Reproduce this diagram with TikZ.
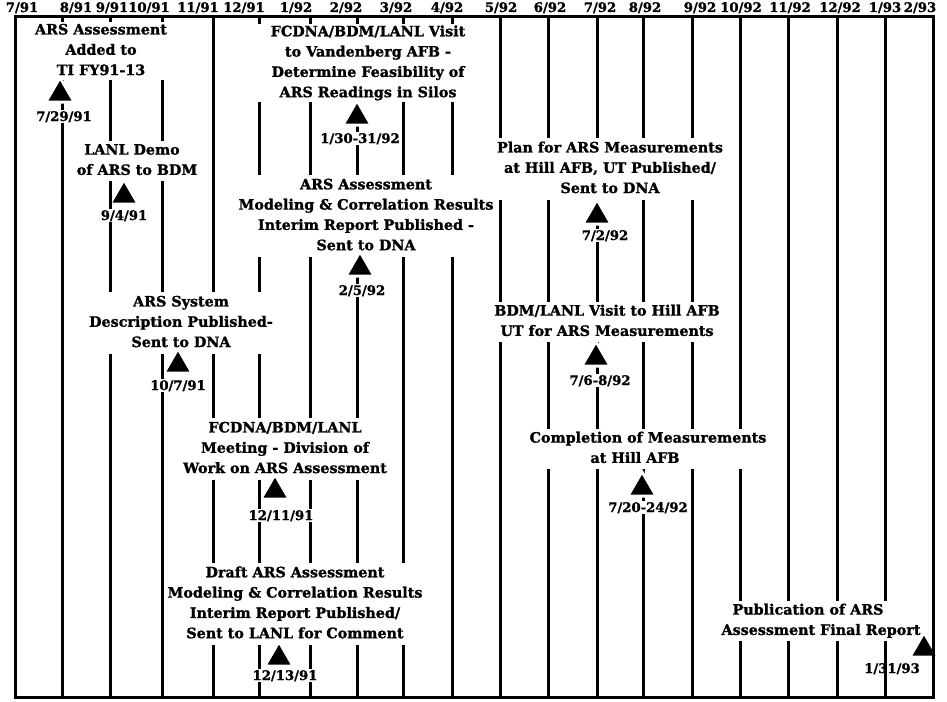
\documentclass[tikz,border=0pt]{standalone}
\usepackage{fontspec}
\setmainfont{DejaVu Serif}[BoldFeatures={FakeBold=1.3}]
\usetikzlibrary{shapes.geometric}
\newcommand\evfont{\fontsize{14.3}{20.3}\selectfont\bfseries}
\newcommand\datefont{\fontsize{13.2}{16}\selectfont\bfseries}
\newcommand\hdrfont{\fontsize{13.2}{15}\selectfont\bfseries}
\newcommand\ls{\rule[-3.5pt]{0pt}{14.5pt}}
\tikzset{
  frame/.style={line width=3pt},
  month/.style={line width=3pt},
  ev/.style={align=center, fill=white, inner xsep=4pt, inner ysep=3pt, font=\evfont},
  toprow/.style={inner ysep=1pt},
  datelbl/.style={fill=white, inner xsep=1pt, inner ysep=1pt, anchor=base, font=\datefont},
  hdr/.style={inner sep=0pt, anchor=base, font=\hdrfont},
  marker/.style={regular polygon, regular polygon sides=3, fill=black, minimum size=26.5pt, inner sep=0pt},
  halo/.style={preaction={draw=white, line width=6pt}},
}
\begin{document}
\begin{tikzpicture}[x=1pt,y=-1pt]
\useasboundingbox (0,0) rectangle (947,701);
\fill[white] (0,0) rectangle (947,701);
\draw[frame] (15,17) rectangle (933,697);
\foreach \x in {62,110,162,213,259,310,357,403,452,500,548,597,643,692,740,788,837,885}
  \draw[month] (\x,17) -- (\x,697);
% header
\node[hdr] (h1) at (22,12) {7/91};
\node[hdr] (h2) at (76,12) {8/91};
\node[hdr] (h3) at (112,12) {9/91};
\node[hdr] (h4) at (149,12) {10/91};
\node[hdr] (h5) at (198,12) {11/91};
\node[hdr] (h6) at (244,12) {12/91};
\node[hdr] (h7) at (296,12) {1/92};
\node[hdr] (h8) at (346,12) {2/92};
\node[hdr] (h9) at (396,12) {3/92};
\node[hdr] (h10) at (447,12) {4/92};
\node[hdr] (h11) at (501,12) {5/92};
\node[hdr] (h12) at (550,12) {6/92};
\node[hdr] (h13) at (600,12) {7/92};
\node[hdr] (h14) at (645,12) {8/92};
\node[hdr] (h15) at (700,12) {9/92};
\node[hdr] (h16) at (741,12) {10/92};
\node[hdr] (h17) at (790,12) {11/92};
\node[hdr] (h18) at (840,12) {12/92};
\node[hdr] (h19) at (885,12) {1/93};
\node[hdr] (h20) at (920,12) {2/93};
% events
\node[ev, toprow] (e1) at (101,51) {\ls ARS Assessment\\\ls Added to\\\ls TI FY91-13};
\node[ev] (e2) at (137,161) {\ls LANL Demo\hspace*{10pt}\\\ls of ARS to BDM};
\node[ev] (e3) at (181,323) {\ls ARS System\\\ls Description Published-\\\ls Sent to DNA};
\node[ev] (e4) at (285,449) {\ls FCDNA/BDM/LANL\\\ls Meeting - Division of\\\ls Work on ARS Assessment};
\node[ev] (e5) at (295,604) {\ls Draft ARS Assessment\\\ls Modeling \& Correlation Results\\\ls Interim Report Published/\\\ls Sent to LANL for Comment};
\node[ev, toprow, inner xsep=15pt] (e6) at (368,63) {\ls FCDNA/BDM/LANL Visit\\\ls to Vandenberg AFB -\\\ls Determine Feasibility of\\\ls ARS Readings in Silos};
\node[ev, inner xsep=2pt] (e7) at (366,216) {\ls ARS Assessment\\\ls Modeling \& Correlation Results\\\ls Interim Report Published -\\\ls Sent to DNA};
\node[ev] (e8) at (610,169) {\ls Plan for ARS Measurements\\\ls at Hill AFB, UT Published/\\\ls Sent to DNA};
\node[ev] (e9) at (607,322) {\ls BDM/LANL Visit to Hill AFB\\\ls UT for ARS Measurements};
\node[ev] (e10) at (648,449) {\ls Completion of Measurements\\\ls at Hill AFB\hspace*{26pt}};
\node[ev] (e11) at (821,621) {\ls Publication of ARS\hspace*{26pt}\\\ls Assessment Final Report};
% markers
\node[marker, halo] (t1) at (60,94) {};
\node[marker] (t2) at (124,196) {};
\node[marker] (t3) at (178,365) {};
\node[marker] (t4) at (275,491) {};
\node[marker] (t5) at (279,658) {};
\node[marker, halo] (t6) at (357,117) {};
\node[marker, halo] (t7) at (360,268) {};
\node[marker, halo] (t8) at (597,216) {};
\node[marker, halo] (t9) at (596,358) {};
\node[marker, halo] (t10) at (642,488) {};
\node[marker] (t11) at (924,649) {};
% dates
\node[datelbl] (d1) at (64,121) {7/29/91};
\node[datelbl] (d2) at (124,220) {9/4/91};
\node[datelbl] (d3) at (178,390) {10/7/91};
\node[datelbl] (d4) at (281,520) {12/11/91};
\node[datelbl] (d5) at (285,680) {12/13/91};
\node[datelbl, inner xsep=0.5pt] (d6) at (360,143) {1/30-31/92};
\node[datelbl] (d7) at (362,295) {2/5/92};
\node[datelbl] (d8) at (605,240) {7/2/92};
\node[datelbl] (d9) at (600,385) {7/6-8/92};
\node[datelbl] (d10) at (648,512) {7/20-24/92};
\node[datelbl, fill=none] (d11) at (892,673) {1/31/93};
\end{tikzpicture}
\end{document}
